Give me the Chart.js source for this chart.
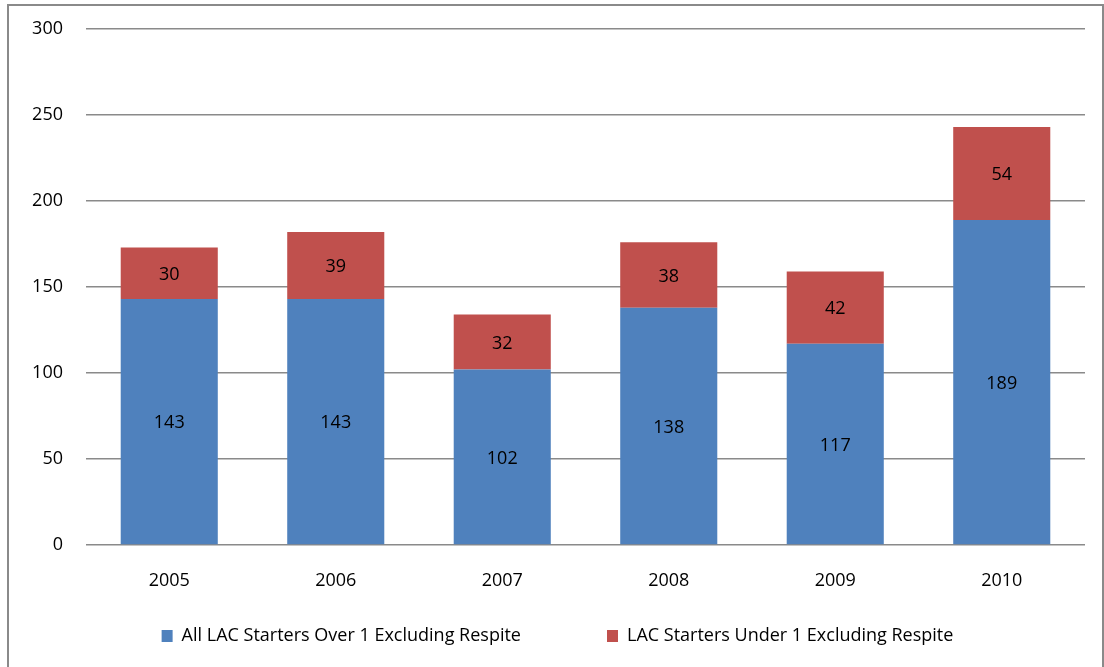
<!DOCTYPE html>
<html>
<head>
<meta charset="utf-8">
<title>LAC Starters</title>
<script src="https://cdn.jsdelivr.net/npm/chart.js@4.4.1/dist/chart.umd.min.js"></script>
<style>
  html, body { margin: 0; padding: 0; background: #fff; }
  canvas { display: block; }
</style>
</head>
<body>
<canvas id="lacChart" width="1104" height="667"></canvas>
<script>
// years and starter counts
const years = ['2005', '2006', '2007', '2008', '2009', '2010'];
const over1 = [143, 143, 102, 138, 117, 189];
const under1 = [30, 39, 32, 38, 42, 54];
const yTicks = [0, 50, 100, 150, 200, 250, 300];

const FONT = '"Open Sans", Lato, sans-serif';
const FONT_SIZE = 18;
const LEGEND_GAP = 86;      // space between the two legend entries
const LEGEND_MID = 636;     // vertical centre of the legend row

// grey frame round the whole chart
const framePlugin = {
    id: 'frame',
    beforeDraw(chart) {
        const c = chart.ctx;
        c.save();
        c.strokeStyle = '#8a8a8a';
        c.lineWidth = 2;
        c.strokeRect(8, 5, 1095, 700);
        c.restore();
    }
};

// keep the wide legend spacing but pull the row up under the year labels
const legendRow = {
    id: 'legendRow',
    afterLayout(chart) {
        const lg = chart.legend;
        const h = lg.height;
        lg.top = LEGEND_MID - LEGEND_GAP - FONT_SIZE / 2;
        lg.bottom = lg.top + h;
        lg.left = 30;
    }
};

// value printed in the middle of each bar segment
const valueLabels = {
    id: 'valueLabels',
    afterDatasetsDraw(chart) {
        const c = chart.ctx;
        c.save();
        c.font = FONT_SIZE + 'px ' + FONT;
        c.fillStyle = '#000';
        c.textAlign = 'center';
        c.textBaseline = 'middle';
        chart.data.datasets.forEach((ds, i) => {
            const meta = chart.getDatasetMeta(i);
            meta.data.forEach((bar, j) => {
                const mid = (bar.y + bar.base) / 2 + 1.5;
                c.fillText(ds.data[j], bar.x, mid);
            });
        });
        c.restore();
    }
};

const ctx = document.getElementById('lacChart').getContext('2d');

const lacChart = new Chart(ctx, {
    type: 'bar',
    data: {
        labels: years,
        datasets: [
            {
                label: 'All LAC Starters Over 1 Excluding Respite',
                data: over1,
                backgroundColor: '#4f81bd',
                barPercentage: 0.583,
                categoryPercentage: 1
            },
            {
                label: 'LAC Starters Under 1 Excluding Respite',
                data: under1,
                backgroundColor: '#c0504d',
                barPercentage: 0.583,
                categoryPercentage: 1
            }
        ]
    },
    options: {
        responsive: false,
        animation: false,
        layout: {
            padding: { left: 0, right: 19, top: 29, bottom: -52 }
        },
        plugins: {
            legend: {
                position: 'bottom',
                labels: {
                    boxWidth: 11,
                    boxHeight: 12,
                    padding: LEGEND_GAP,
                    color: '#000',
                    font: { family: FONT, size: FONT_SIZE }
                }
            },
            tooltip: { enabled: false }
        },
        scales: {
            x: {
                stacked: true,
                grid: { display: false, drawTicks: false },
                border: { display: false },
                ticks: {
                    padding: 25,
                    color: '#000',
                    font: { family: FONT, size: FONT_SIZE }
                },
                afterFit(scale) {
                    scale.height = 60;
                }
            },
            y: {
                stacked: true,
                min: 0,
                max: 300,
                afterBuildTicks(scale) {
                    scale.ticks = yTicks.map(v => ({ value: v }));
                },
                grid: {
                    color: '#8a8a8a',
                    lineWidth: 1.5,
                    drawTicks: false
                },
                border: { display: false },
                ticks: {
                    padding: 23,
                    color: '#000',
                    font: { family: FONT, size: FONT_SIZE }
                },
                afterFit(scale) {
                    // fixed axis width; tick padding must not push the plot down
                    scale.width = 86;
                    scale.paddingTop = 0;
                    scale.paddingBottom = 0;
                }
            }
        }
    },
    plugins: [framePlugin, legendRow, valueLabels]
});
</script>
</body>
</html>
